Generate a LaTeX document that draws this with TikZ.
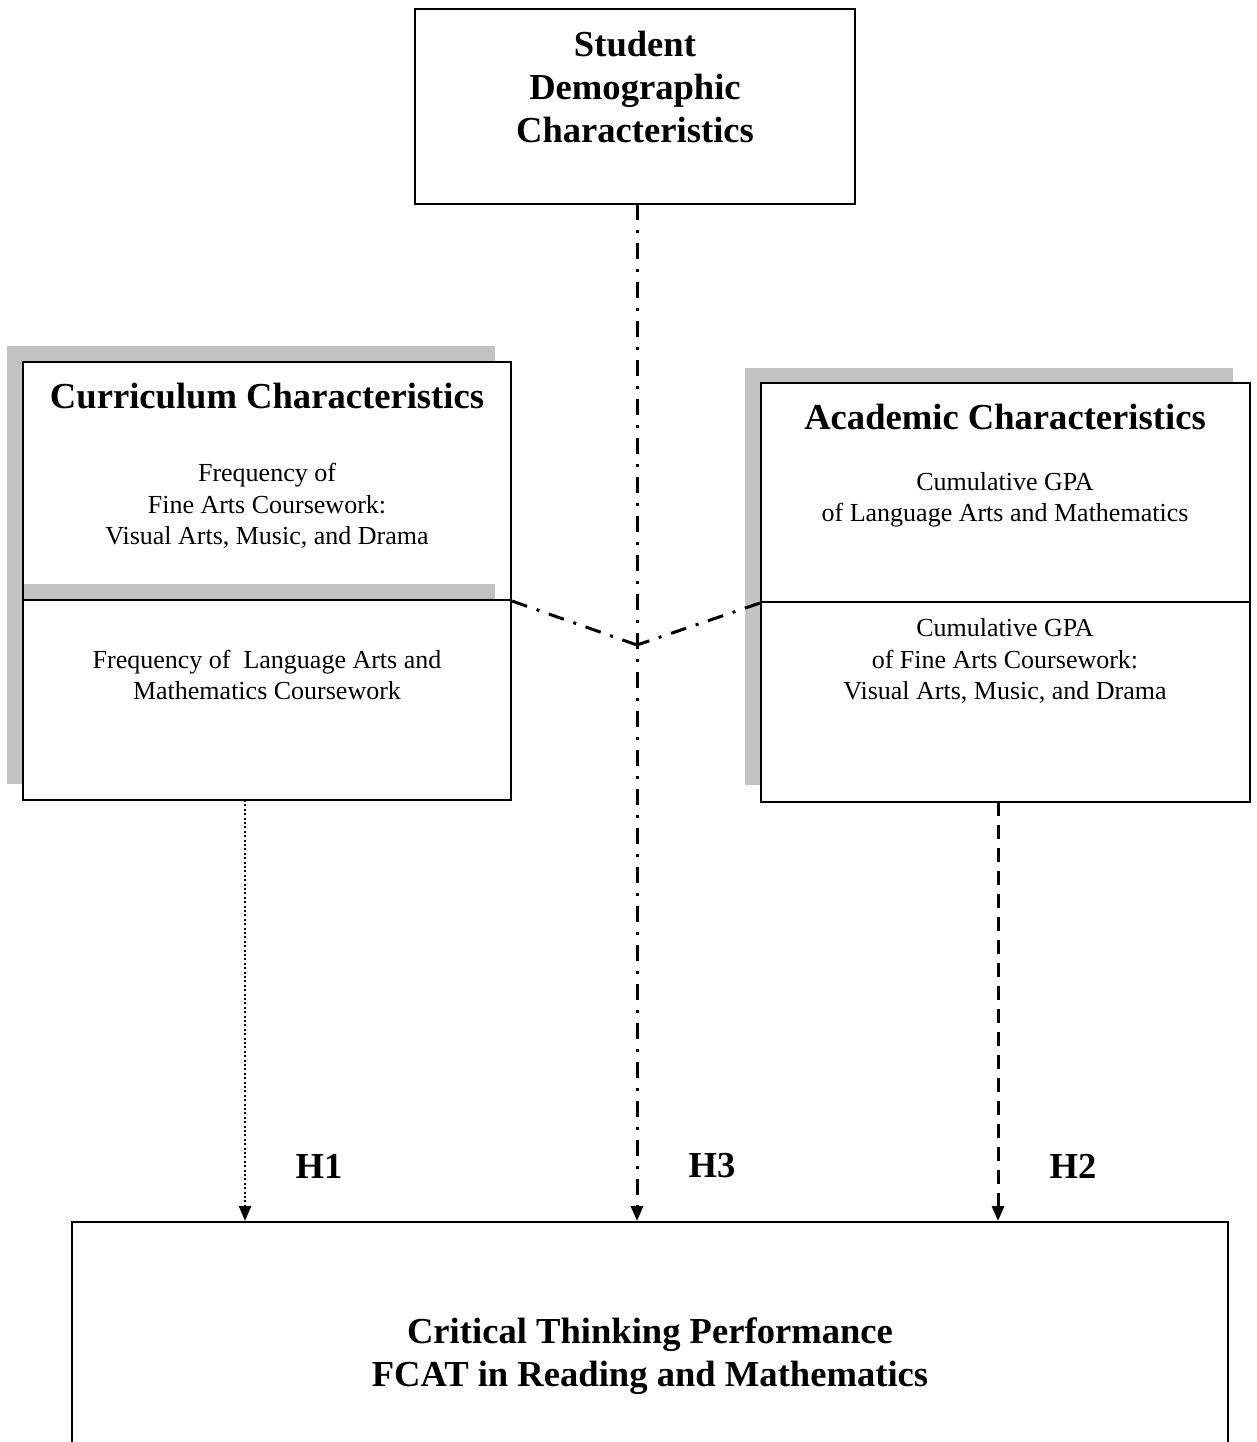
\documentclass[tikz,border=0pt]{standalone}
\usepackage{fontspec}
\setmainfont{Liberation Serif}
\usetikzlibrary{arrows.meta}
\begin{document}
\begin{tikzpicture}[x=0.5pt,y=-0.5pt,
  box/.style={draw=black,line width=1pt,inner sep=0pt,rectangle},
  shadowfill/.style={fill=black!24},
  titletext/.style={font=\fontsize{18.3}{21.5}\selectfont\bfseries,align=center,inner sep=0pt},
  bodytext/.style={font=\fontsize{13}{15.75}\selectfont,align=center,inner sep=0pt},
  hlabel/.style={font=\fontsize{18.3}{21.5}\selectfont\bfseries,inner sep=0pt},
  conn/.style={line width=1.5pt,-{Triangle[width=6pt,length=7.5pt]}},
  dashdot/.style={dash pattern=on 8pt off 5pt on 1.5pt off 5pt},
  dashedline/.style={dash pattern=on 7pt off 4.5pt},
  dottedline/.style={line width=1pt,dash pattern=on 1pt off 1.2pt}
]
\useasboundingbox (0,0) rectangle (1257,1442);
\clip (0,0) rectangle (1257,1442);
\fill[white] (0,0) rectangle (1257,1442);

% shadows
\fill[shadowfill] (7,346) rectangle (495,584);
\fill[shadowfill] (7,584) rectangle (495,784);
\fill[shadowfill] (745,368) rectangle (1233,785);
\fill[white] (23,362) rectangle (511,584);
\fill[white] (23,600) rectangle (511,800);
\fill[white] (761,383) rectangle (1250,802);

% boxes
\node[box,minimum width=220pt,minimum height=97.5pt] (demo) at (635,106.5) {};
\node[box,minimum width=244pt,minimum height=119pt] (curA) at (267,481) {};
\node[box,minimum width=244pt,minimum height=100pt] (curB) at (267,700) {};
\node[box,minimum width=244.5pt,minimum height=109.5pt] (acaA) at (1005.5,492.5) {};
\node[box,minimum width=244.5pt,minimum height=100pt] (acaB) at (1005.5,702) {};
\node[box,fill=white,minimum width=578pt,minimum height=139pt] (crit) at (650,1361) {};

% texts
\node[titletext] (demoT) at (635,87) {Student\\Demographic\\Characteristics};
\node[titletext] (curT) at (267,396) {Curriculum Characteristics};
\node[bodytext] (curAT) at (267,506) {Frequency of\\Fine Arts Coursework:\\Visual Arts, Music, and Drama};
\node[bodytext] (curBT) at (267,675) {Frequency of\ \ Language Arts and\\Mathematics Coursework};
\node[titletext] (acaT) at (1005,417) {Academic Characteristics};
\node[bodytext] (acaAT) at (1005,500) {Cumulative GPA\\of Language Arts and Mathematics};
\node[bodytext] (acaBT) at (1005,661) {Cumulative GPA\\of Fine Arts Coursework:\\Visual Arts, Music, and Drama};
\node[titletext] (critT) at (650,1356) {Critical Thinking Performance\\FCAT in Reading and Mathematics};

% connectors
\coordinate (J) at (637,645);
\coordinate (h1s) at (245,800);
\coordinate (h3s) at (637,204);
\coordinate (h2s) at (998,802);
\draw[line width=1.5pt,dashdot] (curA.south east) -- (J);
\draw[line width=1.5pt,dashdot] (acaA.south west) -- (J);
\draw[conn,dottedline] (h1s) -- (h1s |- crit.north);
\draw[conn,dashdot] (h3s) -- (h3s |- crit.north);
\draw[conn,dashedline] (h2s) -- (h2s |- crit.north);

% labels
\node[hlabel] (H1) at (319,1166) {H1};
\node[hlabel] (H3) at (712,1166) {H3};
\node[hlabel] (H2) at (1073,1166) {H2};
\end{tikzpicture}
\end{document}
